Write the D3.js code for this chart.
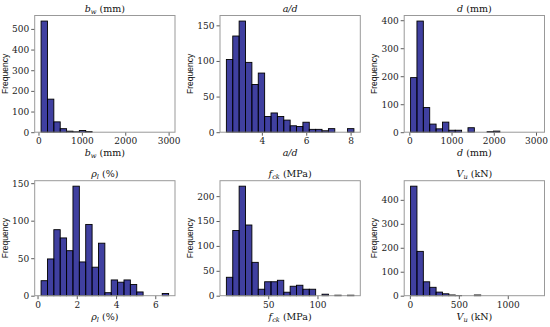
<!DOCTYPE html>
<html><head><meta charset="utf-8">
<script src="https://cdn.jsdelivr.net/npm/d3@7/dist/d3.min.js"></script>
<style>
body{margin:0;background:#fff;}
svg{display:block;}
.tick text{font-family:"DejaVu Serif","Liberation Serif",serif;}
</style></head>
<body>
<svg id="chart" width="550" height="327"></svg>
<script>
// ---- data (counts per equal-width bin, and the data range covered) ----
const bwCounts  = [538,160,50,17,5,2,8,3,0,0,0,0,0,0,0,0,0,0,0,0];
const bwRange   = [60,3000];
const adCounts  = [102,135,156,98,67,83,22,27,22,17,9,8,14,4,4,2,5,0,0,5];
const adRange   = [2.4,8.15];
const dCounts   = [195,397,88,29,12,36,7,7,0,16,0,0,2,4,0,0,0,0,0,0];
const dRange    = [30,3050];
const rhoCounts = [20,49,88,77,60,146,45,95,38,70,4,21,18,21,15,5,0,0,0,3];
const rhoRange  = [0.18,6.68];
const fckCounts = [37,131,220,142,67,13,28,28,31,7,19,21,13,13,0,3,0,1,0,1];
const fckRange  = [7.5,137];
const vuCounts  = [457,185,58,35,15,8,3,1,0,0,3,0,0,0,0,0,0,0,0,0];
const vuRange   = [7,1310];

const bwXTicks = [0,1000,2000,3000], bwYTicks = [0,100,200,300,400,500];
const adXTicks = [4,6,8], adYTicks = [0,50,100,150];
const dXTicks = [0,1000,2000,3000], dYTicks = [0,100,200,300,400];
const rhoXTicks = [0,2,4,6], rhoYTicks = [0,50,100,150];
const fckXTicks = [50,100], fckYTicks = [0,50,100,150,200];
const vuXTicks = [0,500,1000], vuYTicks = [0,100,200,300,400];

// label parts: [text, style] where style: i = italic, s = subscript italic
const bwLabel  = [["b","i"],["w","s"],[" (mm)",""]];
const adLabel  = [["a/d","i"]];
const dLabel   = [["d","i"],[" (mm)",""]];
const rhoLabel = [["ρ","i"],["l","s"],[" (%)",""]];
const fckLabel = [["f","i"],["ck","s"],[" (MPa)",""]];
const vuLabel  = [["V","i"],["u","s"],[" (kN)",""]];

const panels = [
  {counts:bwCounts, range:bwRange, xt:bwXTicks, yt:bwYTicks, label:bwLabel},
  {counts:adCounts, range:adRange, xt:adXTicks, yt:adYTicks, label:adLabel},
  {counts:dCounts, range:dRange, xt:dXTicks, yt:dYTicks, label:dLabel},
  {counts:rhoCounts, range:rhoRange, xt:rhoXTicks, yt:rhoYTicks, label:rhoLabel},
  {counts:fckCounts, range:fckRange, xt:fckXTicks, yt:fckYTicks, label:fckLabel},
  {counts:vuCounts, range:vuRange, xt:vuXTicks, yt:vuYTicks, label:vuLabel}
];

const svg = d3.select("#chart");
const colLeft = [34.7, 220, 404.2];
const rowTop = [15.5, 180.7];
const rowBottom = [132.2, 295.7];
const W = 140.3;

function addMathText(sel, parts, size){
  parts.forEach(([t,s])=>{
    const ts = sel.append("tspan").text(t);
    if(s==="i"){ ts.attr("font-style","italic"); }
    if(s==="s"){ ts.attr("font-style","italic").attr("font-size",size*0.7).attr("baseline-shift","-25%"); }
  });
}

panels.forEach((p,i)=>{
  const col = i%3, row = Math.floor(i/3);
  const x0 = colLeft[col], y0 = rowTop[row], y1 = rowBottom[row];
  const n = p.counts.length;
  const [mn,mx] = p.range;
  const span = mx-mn;
  const bw = span/n;
  const x = d3.scaleLinear().domain([mn-0.05*span, mx+0.05*span]).range([x0, x0+W]);
  const y = d3.scaleLinear().domain([0, d3.max(p.counts)*1.05]).range([y1, y0]);
  const g = svg.append("g");
  const bins = p.counts.map((c,k)=>({x0:mn+k*bw, x1:mn+(k+1)*bw, c}));
  g.selectAll("rect").data(bins.filter(b=>b.c>0)).join("rect")
    .attr("x",b=>x(b.x0)).attr("width",b=>x(b.x1)-x(b.x0))
    .attr("y",b=>y(b.c)).attr("height",b=>y(0)-y(b.c))
    .attr("fill","#000080").attr("fill-opacity",0.75)
    .attr("stroke","#000").attr("stroke-width",0.9);
  // axes
  const xa = g.append("g").attr("transform",`translate(0,${y1})`)
    .call(d3.axisBottom(x).tickValues(p.xt).tickSize(3.5).tickPadding(2).tickFormat(d3.format("d")));
  const ya = g.append("g").attr("transform",`translate(${x0},0)`)
    .call(d3.axisLeft(y).tickValues(p.yt).tickSize(3.5).tickPadding(2).tickFormat(d3.format("d")));
  [xa,ya].forEach(a=>{
    a.select(".domain").remove();
    a.selectAll(".tick line").attr("stroke","#333").attr("stroke-width",0.8);
    a.selectAll(".tick text").attr("font-size",9).attr("fill","#222");
  });
  // frame
  g.append("rect").attr("x",x0).attr("y",y0).attr("width",W).attr("height",y1-y0)
    .attr("fill","none").attr("stroke","#999").attr("stroke-width",1);
  // title & x label
  const tt = g.append("text").attr("x",x0+W/2).attr("y",y0-3.5).attr("text-anchor","middle")
    .attr("font-family","DejaVu Serif, Liberation Serif, serif").attr("font-size",9.5).attr("fill","#111");
  addMathText(tt,p.label,9.5);
  const xl = g.append("text").attr("x",x0+W/2).attr("y",y1+24).attr("text-anchor","middle")
    .attr("font-family","DejaVu Serif, Liberation Serif, serif").attr("font-size",9.5).attr("fill","#111");
  addMathText(xl,p.label,9.5);
  g.append("text").attr("transform",`translate(${x0-27},${(y0+y1)/2}) rotate(-90)`)
    .attr("text-anchor","middle").attr("font-family","Liberation Sans, Arial, sans-serif")
    .attr("font-size",8.5).attr("fill","#111").text("Frequency");
});
</script>
</body></html>
